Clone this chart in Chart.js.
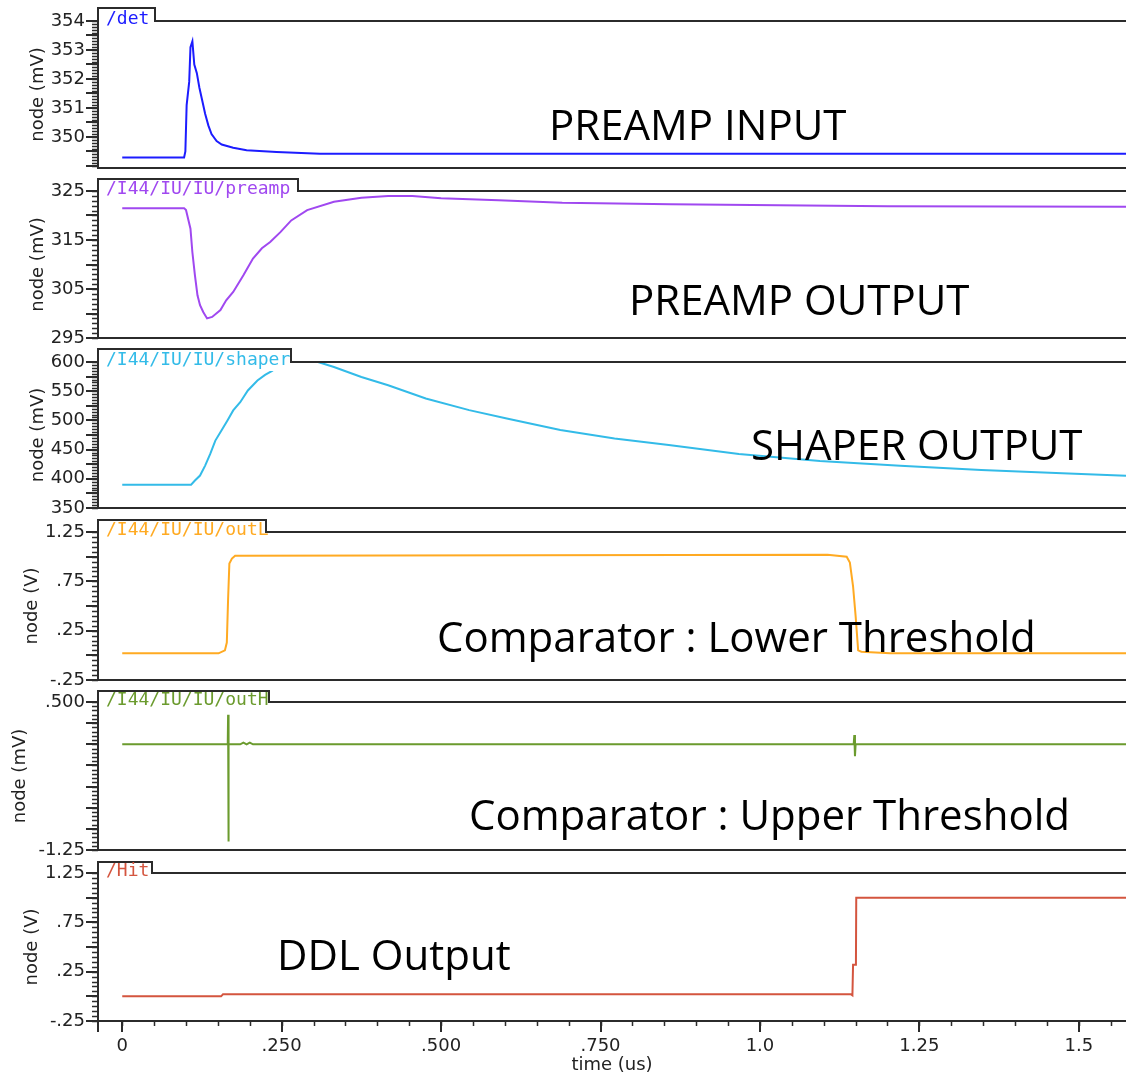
<!DOCTYPE html>
<html lang="en">
<head>
<meta charset="UTF-8">
<script src="https://cdn.jsdelivr.net/npm/chart.js"></script>
<style>
    body { margin: 0; padding: 0; background: #fff; }
    /* panels are stacked canvases, one per signal */
    #stack { position: relative; width: 1126px; height: 1076px; overflow: hidden; background: #fff; }
    #stack canvas { position: absolute; left: 0; }
</style>
</head>
<body>
<div id="stack"></div>
<script>
// --- shared time axis (us) ---
const timeMin = -0.038;
const timeMax = 1.574;
const timeTicks = [0, 0.25, 0.5, 0.75, 1.0, 1.25, 1.5];
const timeTickLabels = ['0', '.250', '.500', '.750', '1.0', '1.25', '1.5'];

// --- /det (mV) ---
const detTime = [0, 0.097, 0.099, 0.101, 0.105, 0.107, 0.110, 0.113, 0.117, 0.121, 0.125, 0.130, 0.135, 0.140, 0.148, 0.156, 0.174, 0.195, 0.242, 0.310, 0.750, 1.574];
const detVal  = [349.29, 349.29, 349.5, 351.1, 351.9, 353.1, 353.3, 352.5, 352.2, 351.7, 351.3, 350.8, 350.4, 350.1, 349.86, 349.74, 349.63, 349.54, 349.48, 349.42, 349.42, 349.42];
const detTicks = [354, 353, 352, 351, 350];
const detTickLabels = ['354', '353', '352', '351', '350'];

// --- preamp output (mV) ---
const preampTime = [0, 0.097, 0.100, 0.107, 0.110, 0.114, 0.118, 0.122, 0.127, 0.133, 0.141, 0.154, 0.163, 0.174, 0.190, 0.205, 0.219, 0.232, 0.248, 0.265, 0.290, 0.332, 0.375, 0.417, 0.455, 0.500, 0.590, 0.690, 0.860, 1.200, 1.574];
const preampVal  = [321.5, 321.5, 321.1, 317.3, 312.5, 307.8, 303.7, 301.7, 300.3, 299.0, 299.3, 300.7, 302.7, 304.4, 307.8, 311.2, 313.3, 314.6, 316.6, 319.0, 321.1, 322.8, 323.6, 324.0, 324.0, 323.5, 323.1, 322.6, 322.3, 321.9, 321.8];
const preampTicks = [325, 315, 305, 295];
const preampTickLabels = ['325', '315', '305', '295'];

// --- shaper output (mV) ---
const shaperTime = [0, 0.108, 0.114, 0.122, 0.130, 0.138, 0.146, 0.157, 0.165, 0.174, 0.185, 0.197, 0.212, 0.224, 0.235, 0.248, 0.263, 0.307, 0.332, 0.375, 0.417, 0.476, 0.544, 0.603, 0.687, 0.772, 0.857, 0.967, 1.094, 1.220, 1.347, 1.474, 1.574];
const shaperVal  = [390, 390, 397, 405.6, 422.6, 442.6, 465.4, 485.3, 500, 517.1, 531.2, 551.2, 568.3, 578, 584.6, 596, 600, 600, 591.5, 574.4, 560.2, 537.5, 517.6, 503.4, 483.4, 469.2, 457.8, 442.5, 430.5, 422.5, 415.2, 409.5, 405.4];
const shaperTicks = [600, 550, 500, 450, 400, 350];
const shaperTickLabels = ['600', '550', '500', '450', '400', '350'];

// --- outL, lower threshold comparator (V) ---
const outLTime = [0, 0.151, 0.161, 0.164, 0.166, 0.168, 0.172, 0.177, 1.106, 1.136, 1.141, 1.146, 1.150, 1.154, 1.159, 1.204, 1.574];
const outLVal  = [0.02, 0.02, 0.05, 0.13, 0.57, 0.93, 0.98, 1.01, 1.02, 1.0, 0.94, 0.70, 0.40, 0.05, 0.036, 0.02, 0.02];
const outLTicks = [1.25, 0.75, 0.25, -0.25];
const outLTickLabels = ['1.25', '.75', '.25', '-.25'];

// --- outH, upper threshold comparator (mV) ---
const outHTime = [0, 0.165, 0.1655, 0.166, 0.1665, 0.167, 0.185, 0.190, 0.195, 0.200, 0.205, 1.147, 1.148, 1.149, 1.150, 1.574];
const outHVal  = [0, 0, 0.03, 0.35, -1.15, 0, 0, 0.02, 0, 0.02, 0, 0, 0.11, -0.14, 0, 0];
const outHTicks = [0.5, -1.25];
const outHTickLabels = ['.500', '-1.25'];

// --- Hit, DDL output (V) ---
const hitTime = [0, 0.155, 0.158, 1.143, 1.145, 1.146, 1.1505, 1.151, 1.574];
const hitVal  = [0, 0, 0.02, 0.02, 0.01, 0.32, 0.32, 1.0, 1.0];
const hitTicks = [1.25, 0.75, 0.25, -0.25];
const hitTickLabels = ['1.25', '.75', '.25', '-.25'];

const AXIS_COLOR = '#2b2b2b';
const TEXT_COLOR = '#222';

// one entry per strip: trace, scale range, frame geometry (page px) and caption
const panels = [
    { name: '/det', color: '#1c1cff', time: detTime, val: detVal,
      yMin: 348.93, yMax: 354, ticks: detTicks, tickLabels: detTickLabels, midStep: 0.5, minorStep: 0.1,
      unit: 'node (mV)', titleX: 38, tabTop: 8, header: 21, bottom: 168, tabRight: 155,
      note: 'PREAMP INPUT', noteX: 549, noteY: 140 },
    { name: '/I44/IU/IU/preamp', color: '#a048f0', time: preampTime, val: preampVal,
      yMin: 295, yMax: 325, ticks: preampTicks, tickLabels: preampTickLabels, midStep: 5, minorStep: 1,
      unit: 'node (mV)', titleX: 38, tabTop: 179, header: 191, bottom: 338, tabRight: 298,
      note: 'PREAMP OUTPUT', noteX: 629, noteY: 315 },
    { name: '/I44/IU/IU/shaper', color: '#33bbe8', time: shaperTime, val: shaperVal,
      yMin: 350, yMax: 600, ticks: shaperTicks, tickLabels: shaperTickLabels, midStep: 25, minorStep: 5,
      unit: 'node (mV)', titleX: 38, tabTop: 349, header: 362, bottom: 508, tabRight: 291,
      note: 'SHAPER OUTPUT', noteX: 751, noteY: 460 },
    { name: '/I44/IU/IU/outL', color: '#ffaa22', time: outLTime, val: outLVal,
      yMin: -0.25, yMax: 1.25, ticks: outLTicks, tickLabels: outLTickLabels, midStep: 0.25, minorStep: 0.05,
      unit: 'node (V)', titleX: 32, tabTop: 520, header: 532, bottom: 680, tabRight: 266,
      note: 'Comparator : Lower Threshold', noteX: 437, noteY: 652 },
    { name: '/I44/IU/IU/outH', color: '#6b9b2e', time: outHTime, val: outHVal,
      yMin: -1.25, yMax: 0.5, ticks: outHTicks, tickLabels: outHTickLabels, midStep: 0.25, minorStep: 0.05,
      unit: 'node (mV)', titleX: 20, tabTop: 691, header: 702, bottom: 850, tabRight: 269,
      note: 'Comparator : Upper Threshold', noteX: 469, noteY: 830 },
    { name: '/Hit', color: '#d4553f', time: hitTime, val: hitVal,
      yMin: -0.25, yMax: 1.25, ticks: hitTicks, tickLabels: hitTickLabels, midStep: 0.25, minorStep: 0.05,
      unit: 'node (V)', titleX: 32, tabTop: 862, header: 873, bottom: 1021, tabRight: 152,
      note: 'DDL Output', noteX: 277, noteY: 970 }
];

// tick positions on a fixed step inside [min, max]
function stepValues(min, max, step) {
    const out = [];
    const first = Math.ceil(min / step - 1e-6);
    const last = Math.floor(max / step + 1e-6);
    for (let k = first; k <= last; k++) out.push(k * step);
    return out;
}

// --- PLUGIN: waveform-viewer frame (tick marks, name tab, caption) ---
const panelFrame = {
    id: 'panelFrame',
    afterDraw(chart, args, opts) {
        const p = opts.panel;
        const off = opts.canvasTop;
        const ctx = chart.ctx;
        const a = chart.chartArea;
        const ys = chart.scales.y;
        const xs = chart.scales.x;

        ctx.save();
        ctx.strokeStyle = AXIS_COLOR;

        // y minor ticks
        ctx.lineWidth = 1.5;
        ctx.beginPath();
        stepValues(p.yMin, p.yMax, p.minorStep).forEach(v => {
            const y = Math.round(ys.getPixelForValue(v)) + 0.5;
            ctx.moveTo(a.left - 6, y);
            ctx.lineTo(a.left, y);
        });
        ctx.stroke();

        // y half and labelled ticks
        ctx.lineWidth = 2;
        ctx.beginPath();
        stepValues(p.yMin, p.yMax, p.midStep).concat(p.ticks).forEach(v => {
            const y = Math.round(ys.getPixelForValue(v));
            ctx.moveTo(a.left - 12, y);
            ctx.lineTo(a.left, y);
        });
        ctx.stroke();

        // time ticks on the bottom strip only
        if (opts.last) {
            ctx.lineWidth = 1.5;
            ctx.beginPath();
            stepValues(0, timeMax, 0.05).forEach(v => {
                const x = Math.round(xs.getPixelForValue(v)) + 0.5;
                ctx.moveTo(x, a.bottom);
                ctx.lineTo(x, a.bottom + 5);
            });
            ctx.stroke();
            ctx.lineWidth = 2;
            ctx.beginPath();
            timeTicks.forEach(v => {
                const x = Math.round(xs.getPixelForValue(v));
                ctx.moveTo(x, a.bottom);
                ctx.lineTo(x, a.bottom + 11);
            });
            ctx.moveTo(a.left, a.bottom);
            ctx.lineTo(a.left, a.bottom + 11);
            ctx.stroke();
        }

        // name tab with a white backing behind the label
        const tabTop = p.tabTop - off;
        ctx.font = '18px "DejaVu Sans Mono"';
        const tw = ctx.measureText(p.name).width;
        ctx.fillStyle = '#fff';
        ctx.fillRect(a.left + 2, tabTop + 2, tw + 12, a.top - tabTop + 7);

        ctx.lineWidth = 2;
        ctx.beginPath();
        ctx.moveTo(a.left, a.top + 4);
        ctx.lineTo(a.left, tabTop);
        ctx.lineTo(p.tabRight, tabTop);
        ctx.lineTo(p.tabRight, a.top);
        ctx.lineTo(a.right, a.top);
        ctx.stroke();

        ctx.fillStyle = p.color;
        ctx.textBaseline = 'alphabetic';
        ctx.textAlign = 'left';
        ctx.fillText(p.name, a.left + 8, a.top + 3);

        // big caption
        ctx.fillStyle = '#000';
        ctx.font = '42px "Open Sans"';
        ctx.fillText(p.note, p.noteX, p.noteY - off);
        ctx.restore();
    }
};

function buildPanel(p, last) {
    const canvasTop = p.tabTop - 2;
    const canvasBottom = last ? 1076 : p.bottom + 12;
    const xHeight = last ? 1076 - p.bottom : 3;
    const padBottom = last ? 0 : canvasBottom - p.bottom - xHeight;

    const canvas = document.createElement('canvas');
    canvas.width = 1126;
    canvas.height = canvasBottom - canvasTop;
    canvas.style.top = canvasTop + 'px';
    document.getElementById('stack').appendChild(canvas);

    const labelFont = { family: 'DejaVu Sans', size: 18 };

    return new Chart(canvas, {
        type: 'line',
        data: {
            datasets: [{
                data: p.time.map((t, i) => ({ x: t, y: p.val[i] })),
                borderColor: p.color,
                borderWidth: 2,
                pointRadius: 0,
                tension: 0
            }]
        },
        options: {
            responsive: false,
            animation: false,
            devicePixelRatio: 1,
            events: [],
            layout: { padding: { top: p.header - canvasTop, bottom: padBottom, left: 0, right: 0 } },
            plugins: {
                legend: { display: false },
                tooltip: { enabled: false },
                panelFrame: { panel: p, canvasTop: canvasTop, last: last }
            },
            scales: {
                x: {
                    type: 'linear',
                    min: timeMin,
                    max: timeMax,
                    afterBuildTicks: s => { s.ticks = timeTicks.map(v => ({ value: v })); },
                    afterFit: s => { s.height = xHeight; s.paddingLeft = 0; s.paddingRight = 0; },
                    grid: { display: false, drawTicks: false },
                    border: { display: true, color: AXIS_COLOR, width: 2 },
                    ticks: {
                        display: last,
                        autoSkip: false,
                        maxRotation: 0,
                        padding: 15,
                        color: TEXT_COLOR,
                        font: labelFont,
                        callback: (v, i) => timeTickLabels[i]
                    },
                    title: {
                        display: last,
                        text: 'time (us)',
                        color: TEXT_COLOR,
                        font: { family: 'DejaVu Sans', size: 18 },
                        padding: { top: 0, bottom: 0 }
                    }
                },
                y: {
                    min: p.yMin,
                    max: p.yMax,
                    afterBuildTicks: s => { s.ticks = p.ticks.map(v => ({ value: v })); },
                    afterFit: s => { s.width = 98; s.paddingTop = 0; s.paddingBottom = 0; },
                    grid: { display: false, drawTicks: false },
                    border: { display: true, color: AXIS_COLOR, width: 2 },
                    ticks: {
                        autoSkip: false,
                        padding: 13,
                        color: TEXT_COLOR,
                        font: labelFont,
                        callback: (v, i) => p.tickLabels[i]
                    },
                    title: {
                        display: true,
                        text: p.unit,
                        color: TEXT_COLOR,
                        font: { family: 'DejaVu Sans', size: 18 },
                        padding: { top: p.titleX - 10.8, bottom: 0 }
                    }
                }
            }
        },
        plugins: [panelFrame]
    });
}

panels.forEach((p, i) => buildPanel(p, i === panels.length - 1));
</script>
</body>
</html>
